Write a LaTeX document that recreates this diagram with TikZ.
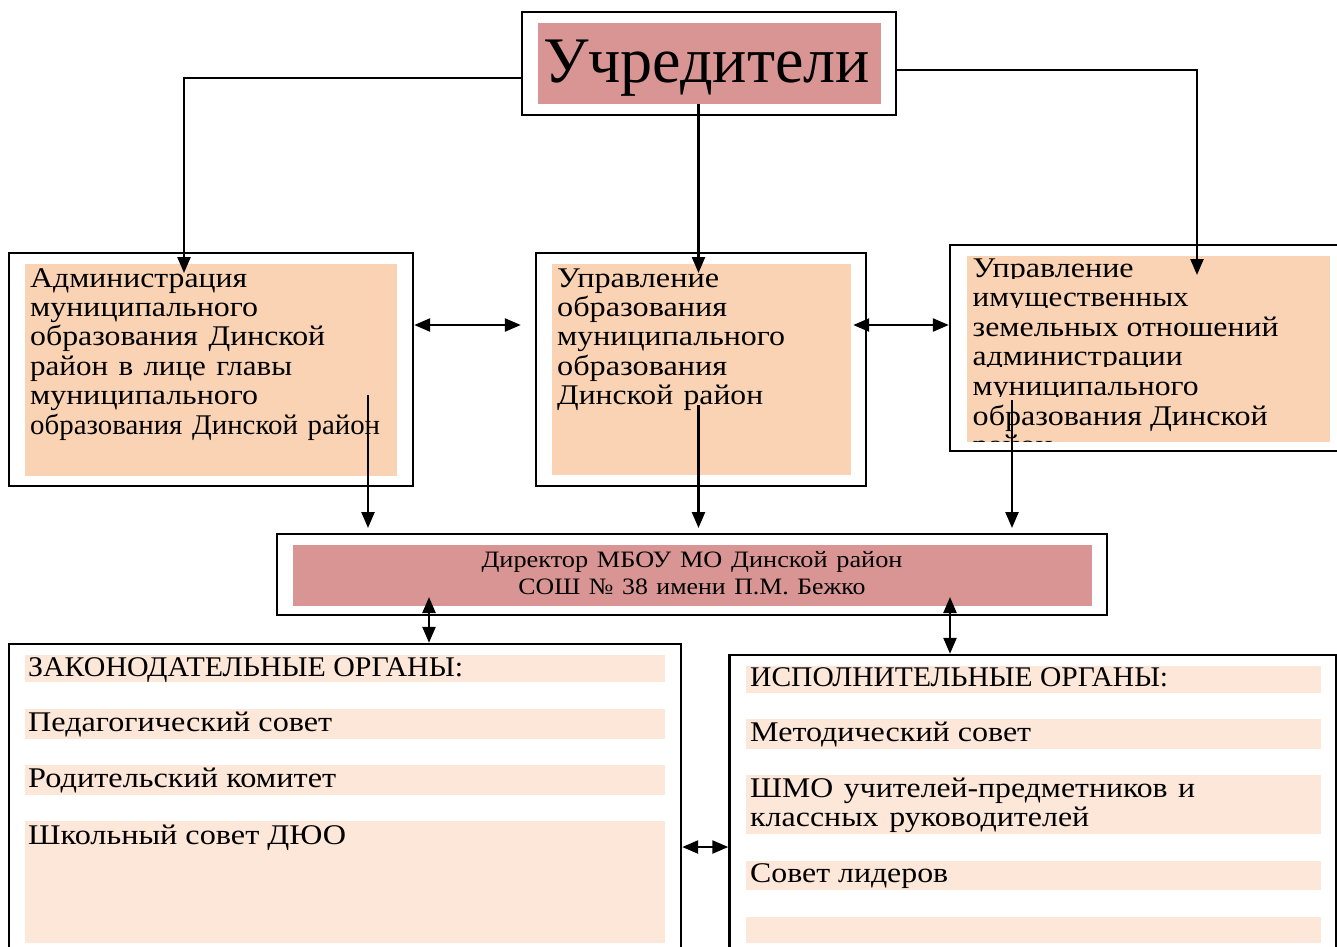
\documentclass[tikz,border=0pt]{standalone}
\usepackage{fontspec}
\usepackage{graphicx}
\setmainfont{Liberation Serif}
\usetikzlibrary{arrows.meta}
\definecolor{rosec}{HTML}{D99594}
\definecolor{peachc}{HTML}{FAD3B4}
\definecolor{lightc}{HTML}{FCE7D9}
\newcommand{\fw}[2]{\resizebox{#1pt}{\height}{#2}}
\tikzset{
  outerbox/.style={draw, line width=2.4pt, inner sep=0pt},
  fillbox/.style={draw=none, inner sep=0pt},
  arr/.style={line width=2.4pt, -{Triangle[length=16pt,width=13pt]}},
  darr/.style={line width=2.4pt, {Triangle[length=16pt,width=13pt]}-{Triangle[length=16pt,width=13pt]}},
  bodytxt/.style={inner sep=0pt, font=\fontsize{28.5}{29.4}\selectfont, anchor=base west},
  listtxt/.style={inner sep=0pt, font=\fontsize{28.5}{29}\selectfont, anchor=base west},
}
\begin{document}
\begin{tikzpicture}[x=1pt,y=-1pt]
\useasboundingbox (0,0) rectangle (1337,946);
% top
\node[outerbox, minimum width=374pt, minimum height=103pt] (uchr) at (709,63.5) {};
\node[fillbox, fill=rosec, minimum width=343pt, minimum height=81pt] (uchrf) at (709.5,63.5) {};
\node[inner sep=0pt, anchor=base, font=\fontsize{65}{70}\selectfont] (uchrt) at (706.5,82) {\fw{327}{Учредители}};
% admin
\node[outerbox, minimum width=404pt, minimum height=233pt] (adm) at (211,369.5) {};
\node[fillbox, fill=peachc, minimum width=372pt, minimum height=212pt] (admf) at (211,370) {};
\node[bodytxt, text width=372pt, align=left] (admt) at (30,287) {\fw{217}{Администрация}\\\fw{228}{муниципального}\\\fw{295}{образования Динской}\\\fw{262}{район в лице главы}\\\fw{228}{муниципального}\\\fw{350}{образования Динской район}};
% middle
\node[outerbox, minimum width=330pt, minimum height=233pt] (mid) at (701,369.5) {};
\node[fillbox, fill=peachc, minimum width=299pt, minimum height=211pt] (midf) at (701.5,369.5) {};
\node[bodytxt, text width=299pt, align=left] (midt) at (557,287) {\fw{162}{Управление}\\\fw{170}{образования}\\\fw{228}{муниципального}\\\fw{170}{образования}\\\fw{206}{Динской район}};
% right
\node[outerbox, minimum width=392pt, minimum height=206pt] (rgt) at (1146,348) {};
\node[fillbox, fill=peachc, minimum width=363pt, minimum height=186pt] (rgtf) at (1148,348.5) {};
\foreach \t/\w [count=\i] in {Управление/161, имущественных/216, земельных отношений/306, администрации/210, муниципального/226, образования Динской/295} {
  \pgfmathsetmacro{\b}{277+(\i-1)*29.6}
  \pgfmathsetmacro{\bt}{max(255.5,\b-28)}
  \fill[peachc] (966.5,\bt) rectangle (1329.5,\b+2);
  \node[bodytxt] (rt\i) at (972.5,\b) {\fw{\w}{\t}};
}
\begin{scope}
  \clip (rgtf.north west) rectangle (rgtf.south east);
  \node[bodytxt] (rt7) at (972.5,454.6) {\fw{80}{район}};
\end{scope}
% director
\node[outerbox, minimum width=830pt, minimum height=81pt] (dir) at (692,574.5) {};
\node[fillbox, fill=rosec, minimum width=799pt, minimum height=61pt] (dirf) at (692.5,575.5) {};
\node[inner sep=0pt, anchor=base, text width=799pt, align=center, font=\fontsize{23.5}{27}\selectfont] (dirt) at (692,567) {\fw{421}{Директор МБОУ МО Динской район}\\\fw{347}{СОШ № 38 имени П.М. Бежко}};
% bottom left
\node[outerbox, minimum width=672pt, minimum height=346pt] (lb) at (345,817) {};
\node[fillbox, fill=lightc, minimum width=640pt, minimum height=26.5pt] (lb1) at (345,668.25) {};
\node[fillbox, fill=lightc, minimum width=640pt, minimum height=30pt] (lb2) at (345,724) {};
\node[fillbox, fill=lightc, minimum width=640pt, minimum height=30pt] (lb3) at (345,780) {};
\node[fillbox, fill=lightc, minimum width=640pt, minimum height=122pt] (lb4) at (345,882) {};
\node[listtxt] (lt1) at (28,676.7) {\fw{435}{ЗАКОНОДАТЕЛЬНЫЕ ОРГАНЫ:}};
\node[listtxt] (lt2) at (28,731.7) {\fw{304}{Педагогический совет}};
\node[listtxt] (lt3) at (28,787.7) {\fw{308}{Родительский комитет}};
\node[listtxt] (lt4) at (28,844) {\fw{318}{Школьный совет ДЮО}};
% bottom right
\node[outerbox, minimum width=607pt, minimum height=335pt] (rb) at (1033,822.5) {};
\node[fillbox, fill=lightc, minimum width=575pt, minimum height=26.5pt] (rb1) at (1033.5,679.25) {};
\node[fillbox, fill=lightc, minimum width=575pt, minimum height=30pt] (rb2) at (1033.5,734) {};
\node[fillbox, fill=lightc, minimum width=575pt, minimum height=59pt] (rb3) at (1033.5,804.5) {};
\node[fillbox, fill=lightc, minimum width=575pt, minimum height=29pt] (rb4) at (1033.5,875.5) {};
\node[fillbox, fill=lightc, minimum width=575pt, minimum height=26pt] (rb5) at (1033.5,930) {};
\node[listtxt] (rt1b) at (750,686.7) {\fw{418}{ИСПОЛНИТЕЛЬНЫЕ ОРГАНЫ:}};
\node[listtxt] (rt2b) at (750,741) {\fw{281}{Методический совет}};
\node[listtxt, text width=570pt, align=left] (rt3b) at (750,797.7) {\fw{445}{ШМО учителей-предметников и}\\\fw{339}{классных руководителей}};
\node[listtxt] (rt4b) at (750,882.7) {\fw{198}{Совет лидеров}};
% connector coordinates
\coordinate (admIn) at (184,273);
\coordinate (midIn) at (698.5,273);
\coordinate (rgtIn) at (1197,275);
\coordinate (admOut) at (368,395);
\coordinate (midOut) at (698.5,405);
\coordinate (rgtOut) at (1012,400);
\coordinate (dirTop) at (692,528);
\coordinate (dirL) at (429,597);
\coordinate (dirR) at (950,597);
\coordinate (botMid) at (705,847);
% connectors
\draw[arr] ([yshift=-14.5pt]uchr.west) -| (admIn);
\draw[arr] (uchrf.south -| midIn) -- (midIn);
\draw[arr] ([yshift=-6.5pt]uchr.east) -| (rgtIn);
\draw[darr] ([yshift=44.5pt]adm.east) -- ([xshift=-14pt,yshift=44.5pt]mid.west);
\draw[darr] ([xshift=-14pt,yshift=44.5pt]mid.east) -- ([yshift=23pt]rgt.west);
\draw[arr] (admOut) -- (admOut |- dirTop);
\draw[arr] (midOut) -- (midOut |- dirTop);
\draw[arr] (rgtOut) -- (rgtOut |- dirTop);
\draw[darr] (dirL) -- (dirL |- lb.north);
\draw[darr] (dirR) -- (dirR |- rb.north);
\draw[darr] (lb.east |- botMid) -- (rb.west |- botMid);
\end{tikzpicture}
\end{document}
